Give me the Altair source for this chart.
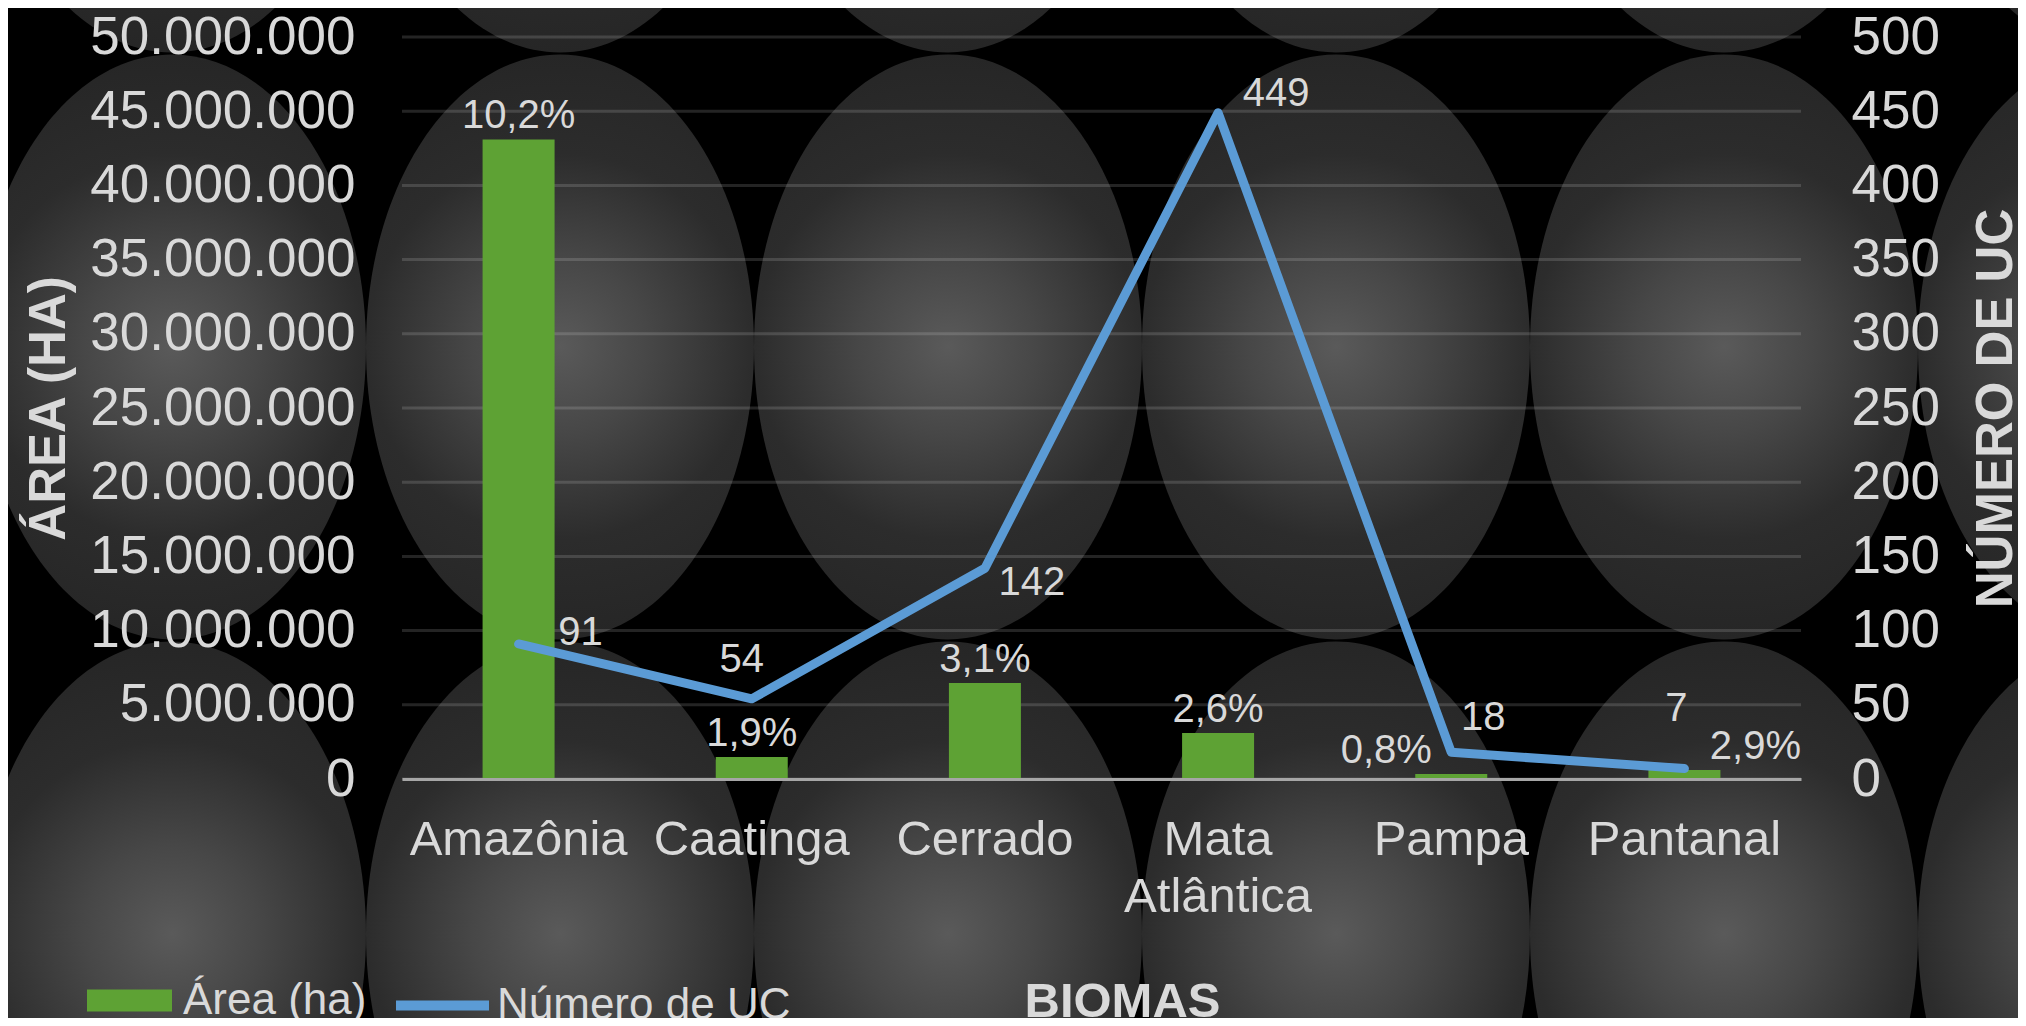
import altair as alt
import pandas as pd

# ---------------- data ----------------
biomas = ["Amazônia", "Caatinga", "Cerrado", "Mata Atlântica", "Pampa", "Pantanal"]
area_ha = [43100000, 1480000, 6470000, 3100000, 340000, 600000]
pct_labels = ["10,2%", "1,9%", "3,1%", "2,6%", "0,8%", "2,9%"]
num_uc = [91, 54, 142, 449, 18, 7]
area_ticks = list(range(0, 50_000_001, 5_000_000))
uc_ticks = list(range(0, 501, 50))

# decorative background grid (column / row indices)
bg_cols = [0, 1, 2, 3, 4, 5]
bg_rows = [-1, 0, 1]

# ---------------- style ----------------
FONT = "Liberation Sans"
TXT = "#d9d9d9"
GREEN = "#5ea234"
BLUE = "#5b9bd5"
W, H = 1399, 742

bar_label_dx = {"Pampa": -65, "Pantanal": 71}
uc_label_off = {
    "Amazônia": (62, -11),
    "Caatinga": (-10, -39),
    "Cerrado": (47, 15),
    "Mata Atlântica": (58, -19),
    "Pampa": (32, -34),
    "Pantanal": (-8, -60),
}

df = pd.DataFrame({"bioma": biomas, "area": area_ha, "pct": pct_labels, "uc": num_uc})
bg_df = pd.DataFrame([(c, r) for c in bg_cols for r in bg_rows], columns=["col", "row"])

# ---------------- background ellipses ----------------
ellipse = ("M 0.6632 0 C 0.6632 0.5523 0.3663 1 0 1 C -0.3663 1 -0.6632 0.5523 -0.6632 0 "
           "C -0.6632 -0.5523 -0.3663 -1 0 -1 C 0.3663 -1 0.6632 -0.5523 0.6632 0 Z")
grad = {
    "gradient": "radial",
    "stops": [
        {"offset": 0, "color": "#5a5a5a"},
        {"offset": 0.3, "color": "#474747"},
        {"offset": 0.66, "color": "#2c2c2c"},
        {"offset": 1, "color": "#262626"},
    ],
}
bg = alt.Chart(bg_df).mark_point(
    shape=ellipse, filled=True, fill=grad, opacity=1, strokeWidth=0, size=585 ** 2
).encode(
    x=alt.X("col:Q", scale=alt.Scale(domain=[0.5928, 4.1985], nice=False, zero=False), axis=None),
    y=alt.Y("row:Q", scale=alt.Scale(domain=[-0.528, 0.736], nice=False, zero=False, reverse=True), axis=None),
)

# ---------------- left (area) group ----------------
x_axis = alt.Axis(
    title="BIOMAS", labelAngle=0, labelExpr="split(datum.label, ' ')", labelLimit=0,
    labelFontSize=49, labelLineHeight=57, labelPadding=36, labelColor=TXT, labelFont=FONT,
    domain=True, domainColor="#a6a6a6", domainWidth=3, ticks=False, grid=False,
    titleFontSize=49, titleFontWeight="bold", titleColor=TXT, titleFont=FONT,
    titleX=720, titleY=222, titleBaseline="middle", titleAlign="center", zindex=1,
)
x_left = alt.X("bioma:N", sort=biomas, scale=alt.Scale(paddingInner=0, paddingOuter=0), axis=x_axis)
y_area = alt.Y(
    "area:Q",
    scale=alt.Scale(domain=[0, 50_000_000], nice=False),
    axis=alt.Axis(
        title="ÁREA (HA)", values=area_ticks, labelLimit=0,
        labelExpr="replace(format(datum.value, ','), regexp(',', 'g'), '.')",
        grid=False, domain=False, ticks=False,
        labelFontSize=53, labelColor=TXT, labelFont=FONT, labelPadding=47,
        titleFontSize=51, titleFontWeight="bold", titleColor=TXT, titleFont=FONT,
        titleAngle=270, titleX=-353, titleY=371, titleBaseline="middle", titleAlign="center",
        zindex=1,
    ),
)

grid = alt.Chart(pd.DataFrame({"area": area_ticks})).mark_rule(
    color="white", opacity=0.14, strokeWidth=3
).encode(y=alt.Y("area:Q"))

bars = alt.Chart(df).transform_calculate(serie="'Área (ha)'").mark_bar(size=72).encode(
    x=x_left,
    y=y_area,
    color=alt.Color(
        "serie:N",
        scale=alt.Scale(domain=["Área (ha)"], range=[GREEN]),
        legend=alt.Legend(
            orient="none", legendX=-315, legendY=921, title=None,
            symbolType="M -1 -0.26 L 1 -0.26 L 1 0.26 L -1 0.26 Z",
            symbolSize=7225, symbolStrokeWidth=0, symbolOpacity=1, labelLimit=0,
            labelFontSize=44, labelColor=TXT, labelFont=FONT, labelOffset=11, padding=0,
        ),
    ),
)

bar_label_layers = []
for b in biomas:
    bar_label_layers.append(
        alt.Chart(df).transform_filter(alt.datum.bioma == b).mark_text(
            font=FONT, fontSize=40, color=TXT, baseline="middle",
            dx=bar_label_dx.get(b, 0), dy=-23,
        ).encode(x=alt.X("bioma:N", sort=biomas), y=alt.Y("area:Q"), text="pct:N")
    )

left = alt.layer(grid, bars, *bar_label_layers)

# ---------------- right (UC count) group ----------------
y_uc = alt.Y(
    "uc:Q",
    scale=alt.Scale(domain=[0, 500], nice=False),
    axis=alt.Axis(
        orient="right", title="NÚMERO DE UC", values=uc_ticks, labelLimit=0,
        grid=False, domain=False, ticks=False,
        labelFontSize=53, labelColor=TXT, labelFont=FONT, labelPadding=50,
        titleFontSize=51, titleFontWeight="bold", titleColor=TXT, titleFont=FONT,
        titleAngle=270, titleX=195, titleY=371, titleBaseline="middle", titleAlign="center",
        zindex=1,
    ),
)
x_right = alt.X("bioma:N", sort=biomas, scale=alt.Scale(type="point", padding=0.5), axis=None)

line = alt.Chart(df).transform_calculate(serie2="'Número de UC'").mark_line(
    strokeWidth=9, strokeCap="round", strokeJoin="round"
).encode(
    x=x_right,
    y=y_uc,
    stroke=alt.Stroke(
        "serie2:N",
        scale=alt.Scale(domain=["Número de UC"], range=[BLUE]),
        legend=alt.Legend(
            orient="none", legendX=-11, legendY=917, title=None,
            symbolType="stroke", symbolSize=8649, symbolStrokeWidth=10, labelLimit=0,
            labelFontSize=44, labelColor=TXT, labelFont=FONT, labelOffset=3, padding=0,
        ),
    ),
)

uc_label_layers = []
for b in biomas:
    dx, dy = uc_label_off[b]
    uc_label_layers.append(
        alt.Chart(df).transform_filter(alt.datum.bioma == b).mark_text(
            font=FONT, fontSize=40, color=TXT, baseline="middle", dx=dx, dy=dy,
        ).encode(x=alt.X("bioma:N", sort=biomas), y=alt.Y("uc:Q"), text=alt.Text("uc:Q", format="d"))
    )

right = alt.layer(line, *uc_label_layers)

chart = (
    alt.layer(bg, left, right)
    .resolve_scale(x="independent", y="independent")
    .properties(
        width=W, height=H,
        autosize=alt.AutoSizeParams(type="none"),
        padding={"left": 394, "top": 29, "right": 217, "bottom": 239},
    )
    .configure(background="#000000", font=FONT)
    .configure_view(strokeWidth=0)
)

chart.save("out.html", embed_options={"renderer": "svg", "actions": False})
